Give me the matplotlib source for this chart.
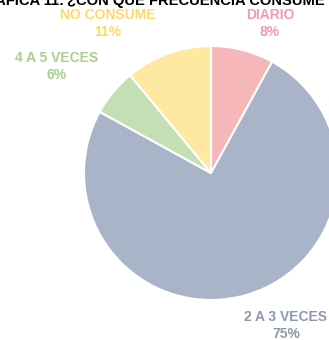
import matplotlib
matplotlib.use("Agg")
import matplotlib.pyplot as plt

categorias = ["DIARIO", "2 A 3 VECES", "4 A 5 VECES", "NO CONSUME"]
porcentajes = [8, 75, 6, 11]
colores = ["#F5B7B7", "#A9B4C9", "#C5DFB4", "#FFE8A0"]
colores_texto = ["#F29AAE", "#8C9AB0", "#A8CF8E", "#FFD966"]
# posiciones de las etiquetas (pixeles, origen arriba a la izquierda)
pos_etiquetas = [(270, 15), (286, 317), (57, 58), (108, 15)]

plt.rcParams["font.family"] = ["Liberation Sans", "DejaVu Sans"]

W, H = 329, 340
fig = plt.figure(figsize=(W / 100, H / 100), dpi=100)
ax = fig.add_axes([0, 0, 1, 1])

ax.pie(porcentajes, colors=colores, startangle=90, counterclock=False,
       center=(211, H - 173), radius=127, frame=True,
       wedgeprops=dict(edgecolor="white", linewidth=1.5))

for cat, p, c, (x, y) in zip(categorias, porcentajes, colores_texto, pos_etiquetas):
    ax.text(x, H - y, cat, color=c, fontsize=10, fontweight="bold",
            ha="center", va="center")
    ax.text(x, H - y - 17, f"{p}%", color=c, fontsize=10, fontweight="bold",
            ha="center", va="center")

ax.set_xlim(0, W)
ax.set_ylim(0, H)
ax.axis("off")

fig.text(67 / W, 1 - 5 / H, "¿CON QUÉ FRECUENCIA CONSUME DULCES?",
         fontsize=10.6, fontweight="bold", ha="left", va="baseline")
fig.text(64 / W, 1 - 5 / H, "GRÁFICA 11:", fontsize=10.6, fontweight="bold",
         ha="right", va="baseline")

fig.savefig("out.png", dpi=100)
